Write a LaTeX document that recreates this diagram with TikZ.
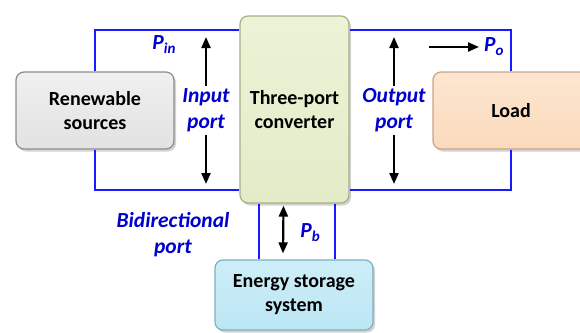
\documentclass[tikz,border=0pt]{standalone}
\usepackage{fontspec}
\setmainfont{Carlito}
\usetikzlibrary{calc,shadows,arrows.meta}
\definecolor{busblue}{RGB}{25,25,255}
\definecolor{lblblue}{RGB}{0,0,205}
\definecolor{grayfill}{RGB}{226,226,226}
\definecolor{graytop}{RGB}{240,240,240}
\definecolor{grayedge}{RGB}{140,140,140}
\definecolor{greenfill}{RGB}{226,236,200}
\definecolor{greentop}{RGB}{236,243,214}
\definecolor{greenedge}{RGB}{165,175,135}
\definecolor{peachfill}{RGB}{250,218,188}
\definecolor{peachtop}{RGB}{253,230,208}
\definecolor{peachedge}{RGB}{200,165,135}
\definecolor{bluefill}{RGB}{188,230,243}
\definecolor{bluetop}{RGB}{205,238,248}
\definecolor{blueedge}{RGB}{125,175,195}
\tikzset{
  blk/.style={draw, line width=1.2pt, rounded corners=8pt, align=center,
    font=\fontsize{20}{24}\selectfont\bfseries, text=black, inner sep=0pt,
    drop shadow={shadow xshift=2pt, shadow yshift=-2.5pt, opacity=0.35}},
  bus/.style={draw=busblue, line width=2pt},
  lbl/.style={text=lblblue, font=\fontsize{21.5}{26}\selectfont\bfseries\itshape, align=center, inner sep=0pt},
  pw/.style={-{Triangle[length=11pt,width=9pt]}, line width=2.2pt, black},
  pwboth/.style={{Triangle[length=11pt,width=9pt]}-{Triangle[length=11pt,width=9pt]}, line width=2.2pt, black}
}
\newcommand{\psub}[1]{\raisebox{-4pt}{\fontsize{15}{15}\selectfont #1}}
\begin{document}
\begin{tikzpicture}[x=1pt,y=-1pt]
\useasboundingbox (0,0) rectangle (580,332);
\clip (0,0) rectangle (580,332);
% blocks
\node[blk, top color=graytop, bottom color=grayfill, draw=grayedge, minimum width=158pt, minimum height=77pt] (renew) at (95,110.5) {Renewable\\sources};
\node[blk, top color=greentop, bottom color=greenfill, draw=greenedge, minimum width=109pt, minimum height=187pt] (conv) at (294.5,109.5) {Three-port\\converter};
\node[blk, top color=peachtop, bottom color=peachfill, draw=peachedge, minimum width=156pt, minimum height=77pt] (load) at (511,110.5) {Load};
\node[blk, top color=bluetop, bottom color=bluefill, draw=blueedge, minimum width=158pt, minimum height=70pt] (ess) at (294,295) {Energy storage\\system};
% buses
\draw[bus] (renew.north) |- ($(conv.north west)+(0,15)$);
\draw[bus] (renew.south) |- ($(conv.south west)+(0,-14)$);
\draw[bus] (load.north) |- ($(conv.north east)+(0,15)$);
\draw[bus] (load.south) |- ($(conv.south east)+(0,-14)$);
\draw[bus] ([xshift=-35pt]ess.north) -- ([xshift=-35pt]ess.north |- conv.south);
\draw[bus] ([xshift=41pt]ess.north) -- ([xshift=41pt]ess.north |- conv.south);
% labels
\node[lbl, minimum height=49pt] (inlab) at (206,110.5) {Input\\port};
\node[lbl, minimum height=49pt] (outlab) at (394,110.5) {Output\\port};
\node[lbl] (bilab) at (173,235) {Bidirectional\\port};
\node[lbl] (pin) at (164,45) {P\psub{in}};
\node[lbl, anchor=west] (po) at (484,47) {P\psub{o}};
\node[lbl] (pb) at (310,233) {P\psub{b}};
% arrows
\coordinate (intop) at (206,37);
\coordinate (inbot) at (206,184);
\coordinate (outtop) at (394,37);
\coordinate (outbot) at (394,184);
\coordinate (postart) at (429,47);
\draw[pw] (inlab.north) -- (intop);
\draw[pw] (inlab.south) -- (inbot);
\draw[pw] (outlab.north) -- (outtop);
\draw[pw] (outlab.south) -- (outbot);
\draw[pw] (postart) -- ([xshift=-5pt]po.west);
\draw[pwboth] ([xshift=-11pt,yshift=-2pt]conv.south) -- ([xshift=-11pt,yshift=6pt]ess.north);
\end{tikzpicture}
\end{document}
